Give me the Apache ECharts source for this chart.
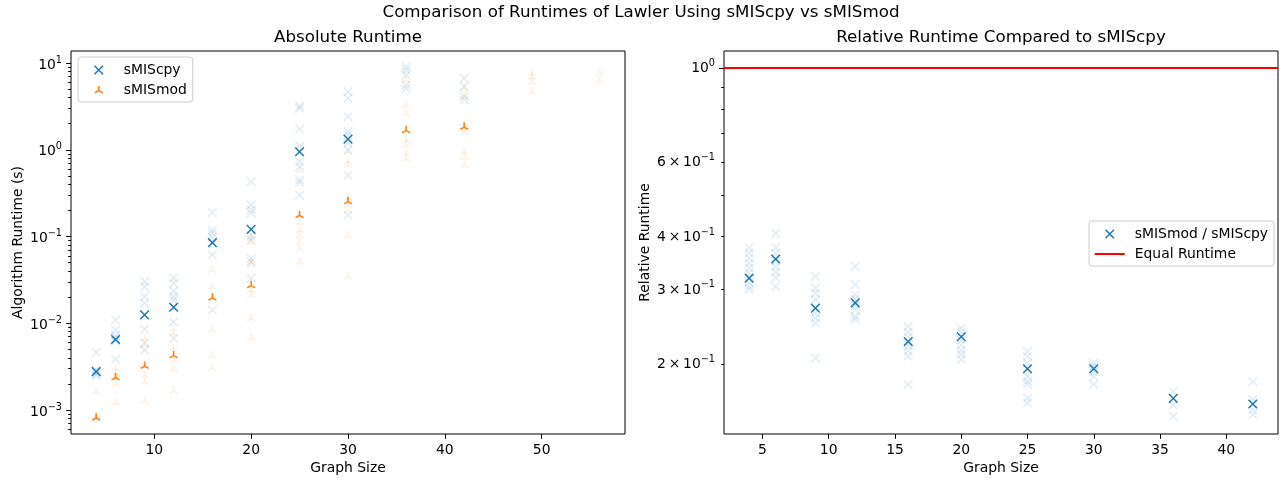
<!DOCTYPE html>
<html>
<head>
<meta charset="utf-8">
<script src="https://cdn.jsdelivr.net/npm/echarts@6/dist/echarts.min.js"></script>
<style>
  html, body { margin: 0; padding: 0; background: #ffffff; }
  #chart { width: 1282px; height: 481px; }
</style>
</head>
<body>
<div id="chart"></div>
<script>
// ---- Absolute runtimes (seconds) per graph size ----
const absSizes = [4, 6, 9, 12, 16, 20, 25, 30, 36, 42, 49, 56];

// summary point per size (null where none is drawn)
const cpyMean = [2.77e-3, 6.5e-3, 0.0125, 0.0153, 0.085, 0.121, 0.95, 1.33, null, null, null, null];
const modMean = [8.6e-4, 2.5e-3, 3.4e-3, 4.5e-3, 0.0208, 0.0289, 0.186, 0.269, 1.77, 1.94, null, null];

// individual runs, one list per size
const cpyRuns = [
  [4.63e-3, 2.9e-3, 2.75e-3, 2.6e-3, 2.5e-3, 2.8e-3],
  [0.0109, 8.4e-3, 7.3e-3, 6.8e-3, 6.2e-3, 3.85e-3],
  [0.0302, 0.0264, 0.0203, 0.017, 8.5e-3, 6.0e-3, 4.92e-3],
  [0.033, 0.0289, 0.0235, 0.0203, 0.0186, 0.0104, 6.7e-3],
  [0.189, 0.119, 0.109, 0.098, 0.0614, 0.0142],
  [0.43, 0.231, 0.203, 0.186, 0.104, 0.0914, 0.056, 0.0513, 0.033],
  [3.2, 3.02, 1.73, 1.11, 0.73, 0.64, 0.45, 0.42, 0.30],
  [4.69, 3.93, 2.41, 1.62, 1.49, 1.19, 1.0, 0.51, 0.177],
  [9.1, 8.3, 7.3, 5.6, 5.1],
  [6.7, 5.36, 4.11, 3.76],
  [],
  []
];
const modRuns = [
  [1.70e-3, 8.9e-4, 8.3e-4],
  [3.16e-3, 2.77e-3, 2.6e-3, 2.12e-3, 1.28e-3],
  [7.0e-3, 5.9e-3, 2.65e-3, 2.22e-3, 1.33e-3],
  [9.1e-3, 8.0e-3, 5.4e-3, 3.95e-3, 3.1e-3, 1.75e-3],
  [0.0431, 0.0277, 8.8e-3, 4.5e-3, 3.2e-3],
  [0.1, 0.091, 0.054, 0.05, 0.0253, 0.0222, 0.0121, 0.0071],
  [0.61, 0.149, 0.125, 0.109, 0.091, 0.077, 0.0537],
  [1.0, 0.77, 0.7, 0.29, 0.25, 0.21, 0.109, 0.036],
  [6.7, 3.45, 2.76, 1.36, 1.19, 0.95, 0.84],
  [5.4, 4.4, 2.12, 1.70, 1.0, 0.87, 0.70],
  [8.0, 7.3, 6.4, 4.9],
  [8.2, 6.6]
];

// ---- Relative runtime (sMISmod / sMIScpy) ----
const relSizes = [4, 6, 9, 12, 16, 20, 25, 30, 36, 42];
const relMean = [0.319, 0.354, 0.271, 0.279, 0.226, 0.232, 0.195, 0.195, 0.166, 0.161];
const relRuns = [
  [0.376, 0.366, 0.356, 0.346, 0.337, 0.328, 0.311, 0.305, 0.300],
  [0.407, 0.377, 0.365, 0.35, 0.34, 0.33, 0.32, 0.305],
  [0.322, 0.302, 0.294, 0.284, 0.264, 0.257, 0.250, 0.2066],
  [0.340, 0.308, 0.292, 0.285, 0.275, 0.268, 0.259, 0.255],
  [0.245, 0.238, 0.232, 0.221, 0.215, 0.209, 0.179],
  [0.243, 0.238, 0.228, 0.222, 0.216, 0.211, 0.205],
  [0.214, 0.2085, 0.201, 0.187, 0.182, 0.179, 0.1663, 0.162],
  [0.201, 0.198, 0.192, 0.187, 0.179],
  [0.172, 0.160, 0.1506],
  [0.182, 0.165, 0.156, 0.152]
];
const equalRuntime = 1;

// ---- Axis ticks ----
const absXTicks = [10, 20, 30, 40, 50];
const relXTicks = [5, 10, 15, 20, 25, 30, 35, 40];
const absYMajor = [1e-3, 1e-2, 1e-1, 1e0, 1e1];
const absYMinor = [6e-4, 7e-4, 8e-4, 9e-4,
  2e-3, 3e-3, 4e-3, 5e-3, 6e-3, 7e-3, 8e-3, 9e-3,
  2e-2, 3e-2, 4e-2, 5e-2, 6e-2, 7e-2, 8e-2, 9e-2,
  0.2, 0.3, 0.4, 0.5, 0.6, 0.7, 0.8, 0.9,
  2, 3, 4, 5, 6, 7, 8, 9];
const relYMajor = [1];
const relYMinor = [0.2, 0.3, 0.4, 0.5, 0.6, 0.7, 0.8, 0.9];
const relYLabels = [0.2, 0.3, 0.4, 0.6, 1];

// ---- Styling ----
const BLUE = '#1f77b4';
const ORANGE = '#ff7f0e';
const FONT = 'DejaVu Sans';
// plot markers
const X_PATH = 'path://M0,0L10,10M10,0L0,10';
const TRI_PATH = 'path://M0,0L0,-10M0,0L-8.66,5M0,0L8.66,5';
// legend handles: drawn inside a 40x9 box (the leading moves set the box extent)
const X_ICON = 'path://M0,0M40,9M15.75,0.25L24.25,8.75M24.25,0.25L15.75,8.75';
const TRI_ICON = 'path://M0,0M40,9M20,5L20,0.4M20,5L16.02,7.3M20,5L23.98,7.3';
const LINE_ICON = 'path://M0,-3M40,5M5,0L35,0L35,2L5,2Z';
const FAINT = 0.15;

const supRich = {
  b: { fontSize: 13.9, fontFamily: FONT, color: '#000', lineHeight: 20 },
  s: { fontSize: 9.7, fontFamily: FONT, color: '#000', lineHeight: 10, verticalAlign: 'top' }
};
function expText(e) { return e < 0 ? '\u2212' + (-e) : String(e); }
function powLabel(v) {
  const e = Math.round(Math.log10(v));
  return '{b|10}{s|' + expText(e) + '}';
}
function relLabel(v) {
  const e = Math.floor(Math.log10(v) + 1e-9);
  const m = Math.round(v / Math.pow(10, e));
  return (m === 1 ? '' : '{b|' + m + '\u2009\u00d7\u2009}') + '{b|10}{s|' + expText(e) + '}';
}

function pairs(sizes, vals) {
  const out = [];
  sizes.forEach((s, i) => { if (vals[i] != null) out.push([s, vals[i]]); });
  return out;
}
function runPairs(sizes, runs) {
  const out = [];
  sizes.forEach((s, i) => runs[i].forEach(v => out.push([s, v])));
  return out;
}

function markerStyle(color, opacity, width) {
  return { color: 'rgba(0,0,0,0)', borderColor: color, borderWidth: width, opacity: opacity };
}
const X_SIZE = 8.6;
const TRI_SIZE = [8, 7];

function xAxisCfg(gridIndex, min, max, ticks) {
  return {
    gridIndex: gridIndex, type: 'value', min: min, max: max, position: 'bottom',
    name: 'Graph Size', nameLocation: 'middle', nameGap: 27, nameMoveOverlap: false,
    nameTextStyle: { fontSize: 13.9, fontFamily: FONT, color: '#000' },
    axisLine: { show: false },
    axisTick: { show: true, customValues: ticks, length: 4.9, lineStyle: { color: '#000', width: 1 } },
    axisLabel: { show: true, customValues: ticks, margin: 9, fontSize: 13.9, fontFamily: FONT, color: '#000' },
    splitLine: { show: false }
  };
}
function yMajorCfg(gridIndex, min, max, ticks, labels, fmt, name, gap, padTop) {
  return {
    gridIndex: gridIndex, type: 'log', logBase: 10, min: min, max: max, position: 'left',
    name: name, nameLocation: 'middle', nameGap: gap, nameRotate: 90, nameMoveOverlap: false,
    nameTextStyle: { fontSize: 13.9, fontFamily: FONT, color: '#000' },
    axisLine: { show: false },
    axisTick: { show: true, customValues: ticks, length: 4.9, lineStyle: { color: '#000', width: 1 } },
    axisLabel: { show: true, customValues: labels, margin: 9, formatter: fmt, rich: supRich,
      padding: [padTop, 0, 0, 0], fontFamily: FONT, color: '#000' },
    splitLine: { show: false }, minorTick: { show: false }
  };
}
function yMinorCfg(gridIndex, min, max, ticks) {
  return {
    gridIndex: gridIndex, type: 'log', logBase: 10, min: min, max: max, position: 'left', offset: 0,
    axisLine: { show: false },
    axisTick: { show: true, customValues: ticks, length: 2.8, lineStyle: { color: '#000', width: 1 } },
    axisLabel: { show: false },
    splitLine: { show: false }
  };
}

const absYMin = Math.pow(10, -3.277), absYMax = Math.pow(10, 1.14);
const relYMin = Math.pow(10, -0.864), relYMax = Math.pow(10, 0.040);

const legendBase = {
  orient: 'vertical', padding: [6, 6, 5, 0], itemWidth: 40, itemHeight: 9, itemGap: 6,
  borderColor: '#cccccc', borderWidth: 1, borderRadius: 3, backgroundColor: 'rgba(255,255,255,0.8)',
  selectedMode: false,
  textStyle: { fontSize: 13.9, fontFamily: FONT, color: '#000' }
};

const chart = echarts.init(document.getElementById('chart'), null, { renderer: 'canvas' });
chart.setOption({
  animation: false,
  backgroundColor: '#ffffff',
  textStyle: { fontFamily: FONT },
  title: [
    { text: 'Comparison of Runtimes of Lawler Using sMIScpy vs sMISmod', left: 641, top: 4, textAlign: 'center', padding: 0,
      textStyle: { fontSize: 16.7, fontWeight: 'normal', color: '#000', fontFamily: FONT } },
    { text: 'Absolute Runtime', left: 348, top: 29.5, textAlign: 'center', padding: 0,
      textStyle: { fontSize: 16.7, fontWeight: 'normal', color: '#000', fontFamily: FONT } },
    { text: 'Relative Runtime Compared to sMIScpy', left: 1001, top: 29.5, textAlign: 'center', padding: 0,
      textStyle: { fontSize: 16.7, fontWeight: 'normal', color: '#000', fontFamily: FONT } }
  ],
  grid: [
    { left: 71, top: 51, width: 554, height: 383, show: true, borderColor: '#000', borderWidth: 1, backgroundColor: 'transparent', outerBoundsMode: 'none' },
    { left: 724, top: 51, width: 554, height: 383, show: true, borderColor: '#000', borderWidth: 1, backgroundColor: 'transparent', outerBoundsMode: 'none' }
  ],
  xAxis: [
    xAxisCfg(0, 1.4, 58.6, absXTicks),
    xAxisCfg(1, 2.1, 43.9, relXTicks)
  ],
  yAxis: [
    yMajorCfg(0, absYMin, absYMax, absYMajor, absYMajor, powLabel, 'Algorithm Runtime (s)', 46, 4),
    yMinorCfg(0, absYMin, absYMax, absYMinor),
    yMajorCfg(1, relYMin, relYMax, relYMajor, relYLabels, relLabel, 'Relative Runtime', 72, 1),
    yMinorCfg(1, relYMin, relYMax, relYMinor)
  ],
  legend: [
    Object.assign({}, legendBase, {
      left: 78, top: 57,
      data: [
        { name: 'sMIScpy', icon: X_ICON, itemStyle: markerStyle(BLUE, 1, 1.5) },
        { name: 'sMISmod', icon: TRI_ICON, itemStyle: markerStyle(ORANGE, 1, 1.5) }
      ]
    }),
    Object.assign({}, legendBase, {
      left: 1089, top: 221,
      data: [
        { name: 'sMISmod / sMIScpy', icon: X_ICON, itemStyle: markerStyle(BLUE, 1, 1.5) },
        { name: 'Equal Runtime', icon: LINE_ICON, itemStyle: { color: '#ff0000', borderWidth: 0, opacity: 1 } }
      ]
    })
  ],
  series: [
    { name: 'sMIScpy runs', type: 'scatter', xAxisIndex: 0, yAxisIndex: 0, symbol: X_PATH, symbolSize: X_SIZE,
      itemStyle: markerStyle(BLUE, FAINT, 1.4), data: runPairs(absSizes, cpyRuns), silent: true },
    { name: 'sMISmod runs', type: 'scatter', xAxisIndex: 0, yAxisIndex: 0, symbol: TRI_PATH, symbolSize: TRI_SIZE, symbolOffset: [0, 1],
      itemStyle: markerStyle(ORANGE, FAINT, 1.4), data: runPairs(absSizes, modRuns), silent: true },
    { name: 'sMIScpy', type: 'scatter', xAxisIndex: 0, yAxisIndex: 0, symbol: X_PATH, symbolSize: X_SIZE,
      itemStyle: markerStyle(BLUE, 1, 1.5), data: pairs(absSizes, cpyMean), silent: true, z: 3 },
    { name: 'sMISmod', type: 'scatter', xAxisIndex: 0, yAxisIndex: 0, symbol: TRI_PATH, symbolSize: TRI_SIZE, symbolOffset: [0, 1],
      itemStyle: markerStyle(ORANGE, 1, 1.5), data: pairs(absSizes, modMean), silent: true, z: 3 },
    { name: 'sMISmod / sMIScpy runs', type: 'scatter', xAxisIndex: 1, yAxisIndex: 2, symbol: X_PATH, symbolSize: X_SIZE,
      itemStyle: markerStyle(BLUE, FAINT, 1.4), data: runPairs(relSizes, relRuns), silent: true },
    { name: 'sMISmod / sMIScpy', type: 'scatter', xAxisIndex: 1, yAxisIndex: 2, symbol: X_PATH, symbolSize: X_SIZE,
      itemStyle: markerStyle(BLUE, 1, 1.5), data: pairs(relSizes, relMean), silent: true, z: 3 },
    { name: 'Equal Runtime', type: 'line', xAxisIndex: 1, yAxisIndex: 2, data: [], symbol: 'none',
      lineStyle: { color: '#ff0000', width: 2 }, itemStyle: { color: '#ff0000' },
      markLine: { silent: true, symbol: 'none', label: { show: false },
        lineStyle: { color: '#ff0000', width: 2, type: 'solid' },
        data: [{ yAxis: equalRuntime }] } }
  ]
});
</script>
</body>
</html>
